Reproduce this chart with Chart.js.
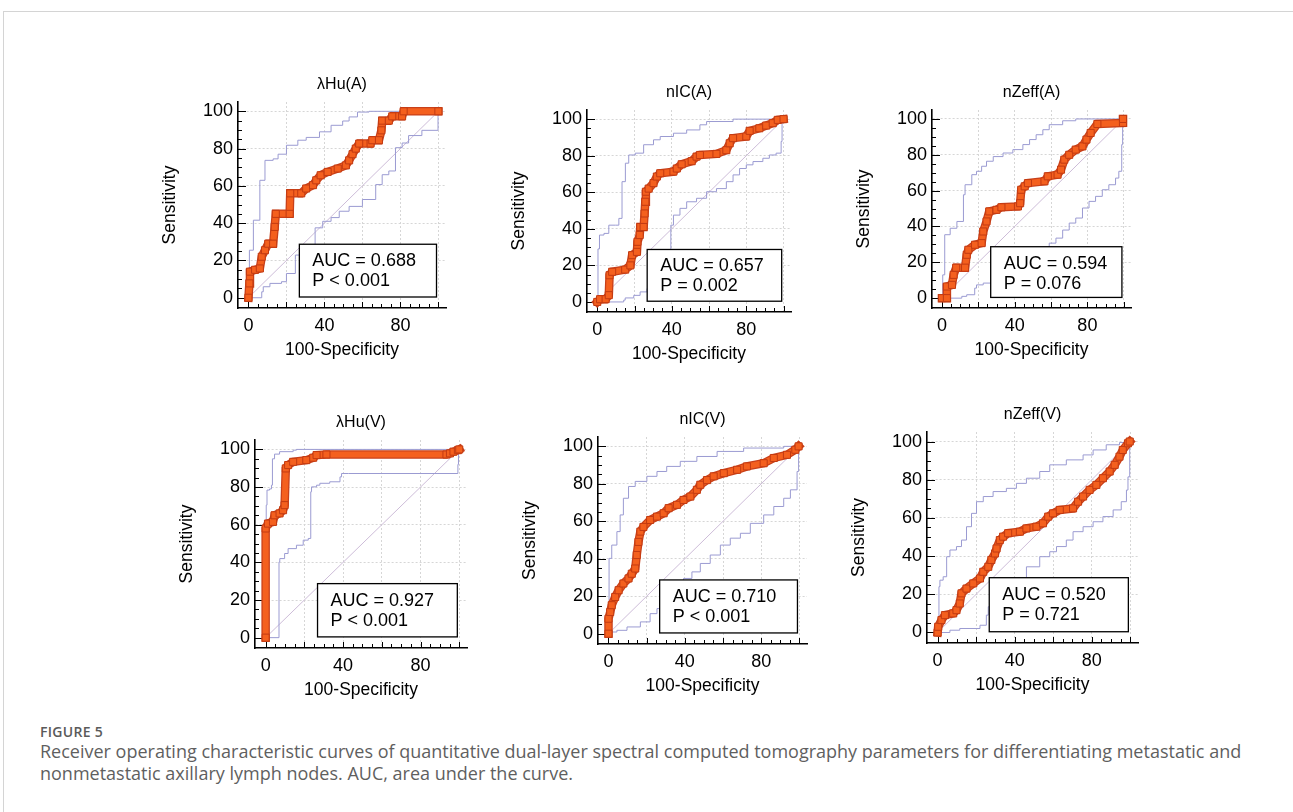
<!DOCTYPE html>
<html>
<head>
<meta charset="utf-8">
<script src="https://cdn.jsdelivr.net/npm/chart.js@4.4.1/dist/chart.umd.min.js"></script>
<style>
  body { margin: 0; background: #fff; width: 1293px; height: 812px; position: relative; overflow: hidden; }
  .frame { position: absolute; left: 3px; top: 11px; right: -2px; bottom: -2px; border-top: 1px solid #d4d4d4; border-left: 1px solid #d4d4d4; }
  canvas.panel { position: absolute; }
  .figlabel { position: absolute; left: 40px; top: 724px; font: 600 14px 'Open Sans', sans-serif; color: #5a5a5a; line-height: 16px; letter-spacing: 0.3px; }
  .caption { position: absolute; left: 40px; top: 740px; margin: 0; font: 18px 'Open Sans', sans-serif; color: #5f5f5f; line-height: 22px; white-space: nowrap; }
</style>
</head>
<body>
<div class="frame"></div>
<div class="figlabel">FIGURE 5</div>
<p class="caption">Receiver operating characteristic curves of quantitative dual-layer spectral computed tomography parameters for differentiating metastatic and<br>nonmetastatic axillary lymph nodes. AUC, area under the curve.</p>
<script>
// panel texts
const panelTitles = ['λHu(A)', 'nIC(A)', 'nZeff(A)', 'λHu(V)', 'nIC(V)', 'nZeff(V)'];
const aucLabels = ['AUC = 0.688', 'AUC = 0.657', 'AUC = 0.594', 'AUC = 0.927', 'AUC = 0.710', 'AUC = 0.520'];
const pLabels = ['P < 0.001', 'P = 0.002', 'P = 0.076', 'P < 0.001', 'P < 0.001', 'P = 0.721'];
const xTitle = '100-Specificity';
const yTitle = 'Sensitivity';

// axis ticks
const tickValues = [0, 5, 10, 15, 20, 25, 30, 35, 40, 45, 50, 55, 60, 65, 70, 75, 80, 85, 90, 95, 100];
const xTickLabels = [0, 40, 80];
const yTickLabels = [0, 20, 40, 60, 80, 100];
const gridValues = [20, 40, 60, 80, 100];

// reference line
const diagonal = [[0, 0], [100, 100]];

// lambda Hu (A)
const rocHuA = [[0,0],[0.5,7.7],[0.8,14],[3.5,15],[6,15.7],[7,22],[8.7,25.5],[10.4,29],[13,29],[13.8,38],[14.4,45],[21.7,45],[22,56],[27.8,56],[30.4,58.6],[34,60.4],[35.7,63],[38,65.7],[41.7,67.5],[47,69.3],[51.3,71],[53,73.7],[54.8,77],[56.5,80],[58.3,82.7],[64.3,82.7],[65.2,84.5],[68.7,84.5],[70,89.8],[70.4,95],[73.9,95],[75.7,97.3],[80.9,97.3],[81.7,100],[100,100]];
const upHuA = [[0,0],[0.5,25.5],[2.6,41.6],[6,63],[8.7,73.7],[13,74.5],[15.6,77],[20,81.8],[26,84.5],[30.4,86],[37.4,89],[43.5,92.5],[49.6,94.8],[53,97],[57.4,99.6],[63.5,100],[100,100]];
const loHuA = [[0,0],[7,0],[7.8,3.2],[11.3,5.9],[17.4,7.7],[20,8.6],[24.7,13],[24.7,20.5],[30.4,22.9],[35.1,24.6],[35.1,35.3],[39.1,37.5],[43.5,41],[47.8,43],[53,46.4],[60,49],[67,52.7],[70.4,60.7],[73.9,66],[77.4,68],[80.9,80.5],[84.3,83],[91.3,87],[99.3,89.8],[99.8,89.8],[100,100]];

// nIC (A)
const rocIcA = [[0,0],[1.5,1.5],[4.5,1.5],[6.2,3.7],[6.6,14.6],[8,16.5],[15,17.7],[17.8,20],[18.7,25.6],[21.3,27.4],[21.6,32.9],[22.8,36.6],[23.1,41],[24.9,41],[25.4,48.4],[25.8,54.8],[26.1,60.3],[27.6,62],[30.2,65],[32,68.6],[33.8,70.4],[40.9,71.3],[42.7,73],[45.3,75.3],[50.7,77],[53.3,79.5],[55.1,80.4],[64,81],[69.3,83],[71.1,86.8],[72.9,89.6],[80,90.5],[81.8,93.6],[87,95],[90.7,96.5],[94.2,97.8],[96.9,99.6],[100,100]];
const upIcA = [[0,0],[0.4,29],[1.2,36.6],[3.6,37.5],[6.2,42],[9.8,42],[11.6,45.7],[13.3,65.8],[15.1,75.9],[16.9,80.4],[20.4,81.4],[24.9,86],[30.2,88.7],[33.8,90.5],[40.9,92.3],[48,94.1],[55.1,96.9],[58.7,98.7],[72.9,100],[100,100]];
const loIcA = [[0,0],[14.2,0],[15,1],[19.6,2.2],[23,3.6],[26.7,5.5],[32,7.3],[36.4,9.1],[39.5,9.5],[39.5,40],[40.9,42],[44.4,47.5],[48,51.2],[53.3,54.8],[58.7,56.7],[64,60.3],[69.3,62],[72.9,65.8],[76.4,69.5],[80,73],[83.6,75],[88.9,76.8],[92.4,78.6],[96,80.4],[98.7,81.4],[99.2,87.8],[100,100]];

// nZeff (A)
const rocZeA = [[0,0],[2.7,0],[2.7,6.5],[5.5,7.4],[6.4,13],[7.8,17],[12.7,17],[13.6,24.2],[14.5,27],[18.2,29.8],[21.8,30.7],[22.7,37.2],[24.5,42.8],[26,48.4],[30,49.3],[32.7,50.7],[41.8,51.2],[43,53],[43.6,60.5],[45.5,62.4],[47.3,64.2],[56.4,65.2],[58.2,68],[63.6,68.9],[65.5,71.7],[67.3,77.3],[70,80],[73.6,82.9],[77.3,84.7],[79.5,88.5],[81.8,92.2],[85.5,97.2],[99.6,97.8],[99.6,100]];
const upZeA = [[0,0],[0.4,13],[1.5,35.4],[4.5,39],[8.2,42.8],[11.8,57.7],[12.7,63.3],[16.4,68.9],[19,70.8],[21.8,73.6],[24.5,76.4],[28.2,79],[33.6,81],[39,82.9],[44.5,85.7],[48.2,88.5],[51.8,91.2],[55.5,94],[59,96.8],[66.4,99],[73.6,100],[100,100]];
const loZeA = [[0,0],[10.9,0],[13.6,1],[18,1.9],[19,5.6],[22.7,7.4],[30,8.4],[31.8,10.2],[37.3,13],[44.5,15],[51.8,17.7],[55.5,23.3],[59,26],[62.7,30.7],[66.4,33.5],[70,38],[73.6,41.9],[77.3,44.7],[80.9,50.3],[84.5,54],[88.2,56.8],[91.8,60.5],[95.5,63.3],[97.3,67],[98.9,70.8],[99.4,85.7],[100,100]];

// lambda Hu (V)
const rocHuV = [[0,0],[0,58],[1.2,60.6],[3.8,61.5],[4.6,65],[7.2,66],[9,67.7],[9.8,70.4],[10.4,89.9],[11.6,91.7],[14.2,93.4],[21,94.3],[24.6,95.6],[26.3,97],[31.4,97.3],[93.4,97.3],[95.2,97.9],[97,98.8],[99.3,99.6],[100,100]];
const upHuV = [[0,0],[0.3,70.4],[0.7,78.4],[2,79],[3,81],[3.5,95],[4.6,97.5],[7.2,98.8],[14.2,99.6],[15.9,100],[100,100]];
const loHuV = [[0,0],[6.9,0],[7.3,40.2],[9.8,42],[11.6,44.7],[15.9,47.3],[19.4,49.1],[22,51.8],[23.3,52.7],[23.7,77.5],[26.3,80.1],[28,81],[33.1,82],[38.4,82.8],[39.2,85.4],[42.7,87.2],[99.3,87.2],[99.6,92],[100,100]];

// nIC (V)
const rocIcV = [[0,0],[0,8],[0.9,11.6],[1.7,15.2],[3.5,19.6],[5.3,23.2],[7.8,26.8],[10.5,29.5],[12.2,32],[14,34.8],[14.8,42],[15.7,49],[16.7,54.5],[18.3,57],[21.8,60.7],[25.4,62.5],[28.9,64.3],[31.5,67],[35.9,68.8],[39.3,71.4],[42.9,73.2],[46.3,76.8],[48.1,79.5],[51.6,82],[55.1,84],[60.4,85.7],[67.4,87.5],[72.5,89.3],[81.3,91],[86.6,93.8],[93.5,95.5],[97.9,98.2],[99.6,100]];
const upIcV = [[0,0],[0.3,40.2],[1.7,47.3],[4.4,54.5],[6.1,63.4],[7.8,72.3],[10.5,78.6],[14,81.3],[20.1,84],[25.4,86.6],[30.5,89.3],[37.6,92],[46.3,94.6],[56.9,97.3],[70.8,99.1],[91.8,100],[100,100]];
const loIcV = [[0,0],[0.9,0],[4.4,0.9],[9.7,1.8],[16.7,3.6],[21.8,6.3],[25.4,10.7],[28.9,13.4],[32.3,19.6],[35.9,22.3],[39.3,25.9],[43.7,29.5],[48.1,33],[53.3,37.5],[58.6,42],[63.8,47.3],[69.1,51],[74.3,53.6],[81.3,58.9],[86.6,63.4],[91.8,67.9],[95.3,72.3],[98.8,76.8],[99.6,86.6],[100,100]];

// nZeff (V)
const rocZeV = [[0,0],[0.3,3],[2,6.5],[3.8,9.1],[8.1,10],[9.8,11.7],[11.5,15.2],[12.4,20.5],[15,23],[18.5,25.7],[22,28.3],[23.7,31.8],[26.3,34.4],[27.9,38],[29.8,41.4],[30.6,44],[32.3,48.4],[34,50.2],[36.6,52],[42.7,52.8],[46.1,54.5],[51.3,55.4],[54.7,57.2],[57.4,60.7],[59.9,62.4],[63.4,64.2],[70.3,65],[72.9,68.5],[75.5,71.2],[78.9,74.7],[82.4,77.3],[85.8,80.8],[89.3,84.3],[91.9,87.8],[94.4,92.1],[96.1,95.6],[98.8,99.1],[99.7,100]];
const upZeV = [[0,0],[0.7,24],[1.2,27.4],[2.9,29.2],[4.7,39.7],[6.4,43.2],[9.8,45],[12.4,48.4],[15,55.4],[17.6,62.4],[20.2,68.5],[23.7,71.2],[28.8,73.8],[35.7,75.5],[40.9,78.1],[46.1,80.8],[53,84.3],[58.2,87.8],[66.8,90.4],[75.5,93],[80.7,95.6],[87.5,98.3],[94.4,99.5],[99.7,100]];
const loZeV = [[0,0],[6.4,0],[11.5,1.2],[22,2.1],[25.3,3.8],[26.3,9.1],[30.4,13.5],[35.7,17],[40.9,21.3],[46.1,27.4],[53,34.4],[58.2,39.7],[61.7,42.3],[66.8,45],[70.3,48.4],[75.5,52.8],[80.7,55.4],[85.8,58],[91.1,60.7],[95.3,64.2],[98,68.5],[98.8,74.6],[99.7,81.5],[100,100]];

const rocCurves = [rocHuA, rocIcA, rocZeA, rocHuV, rocIcV, rocZeV];
const upperCI = [upHuA, upIcA, upZeA, upHuV, upIcV, upZeV];
const lowerCI = [loHuA, loIcA, loZeA, loHuV, loIcV, loZeV];

// layout: plot area of every panel in page pixels [left, top, right, bottom]
const plotBoxes = [
  [238, 102, 446, 308], [587, 110, 791, 312], [932, 110, 1131, 308],
  [255, 440, 467, 648], [598, 437, 807, 644], [927, 432, 1138, 643]
];
const PAD_L = 100, PAD_T = 45, PAD_R = 10, PAD_B = 65;
const FONT = '"Liberation Sans", Arial, sans-serif';

const toXY = (pairs) => pairs.map(p => ({x: p[0], y: p[1]}));

// inner tick marks, AUC box and the texts
const panelDecor = {
    id: 'panelDecor',
    beforeDatasetsDraw(chart) {
        const {ctx, chartArea: ca, scales: {x, y}} = chart;
        ctx.save();
        ctx.strokeStyle = '#000';
        ctx.lineWidth = 1;
        ctx.beginPath();
        x.ticks.forEach(t => {
            const px = Math.round(x.getPixelForValue(t.value)) + 0.5;
            const len = t.value % 20 === 0 ? 6 : 4;
            ctx.moveTo(px, ca.bottom);
            ctx.lineTo(px, ca.bottom - len);
        });
        y.ticks.forEach(t => {
            const py = Math.round(y.getPixelForValue(t.value)) + 0.5;
            const len = t.value % 20 === 0 ? 8 : 4;
            ctx.moveTo(ca.left, py);
            ctx.lineTo(ca.left + len, py);
        });
        ctx.stroke();
        ctx.restore();
    },
    afterDatasetsDraw(chart, args, opts) {
        const {ctx, scales: {x, y}} = chart;
        const left = x.getPixelForValue(26.8), right = x.getPixelForValue(99);
        const top = y.getPixelForValue(28.7), bottom = y.getPixelForValue(0.4);
        ctx.save();
        ctx.fillStyle = '#fff';
        ctx.fillRect(left, top, right - left, bottom - top);
        ctx.strokeStyle = '#000';
        ctx.lineWidth = 1.3;
        ctx.strokeRect(left, top, right - left, bottom - top);
        ctx.fillStyle = '#000';
        ctx.font = '18px ' + FONT;
        ctx.textAlign = 'left';
        ctx.textBaseline = 'middle';
        ctx.fillText(opts.auc, left + 13, top + 17);
        ctx.fillText(opts.p, left + 13, top + 37);
        ctx.restore();
    },
    afterDraw(chart, args, opts) {
        const {ctx, chartArea: ca} = chart;
        const cx = (ca.left + ca.right) / 2;
        ctx.save();
        ctx.fillStyle = '#000';
        ctx.textAlign = 'center';
        ctx.textBaseline = 'middle';
        ctx.font = '16px ' + FONT;
        ctx.fillText(opts.title, cx, ca.top - 17);
        ctx.font = '17.5px ' + FONT;
        ctx.fillText(xTitle, cx, ca.bottom + 42);
        ctx.translate(ca.left - 68, (ca.top + ca.bottom) / 2);
        ctx.rotate(-Math.PI / 2);
        ctx.fillText(yTitle, 0, 0);
        ctx.restore();
    }
};

function makeScale(axis, labels) {
    return {
        type: 'linear',
        min: -5.5,
        max: axis === 'x' ? 104 : 105,
        afterBuildTicks: (s) => { s.ticks = tickValues.map(v => ({value: v})); },
        afterFit: (s) => { if (axis === 'x') s.height = PAD_B; else s.width = PAD_L; },
        ticks: {
            autoSkip: false,
            maxRotation: 0,
            padding: axis === 'x' ? 7 : 5,
            color: '#000',
            font: {family: FONT, size: 18},
            callback: (v) => labels.includes(v) ? String(v) : ''
        },
        grid: {
            drawTicks: false,
            lineWidth: 1,
            color: (c) => (c.tick && gridValues.includes(c.tick.value)) ? '#d6d6d6' : 'rgba(0,0,0,0)'
        },
        border: {color: '#000', width: 1.6, dash: [2, 2]}
    };
}

plotBoxes.forEach((b, i) => {
    const [L, T, R, B] = b;
    const canvas = document.createElement('canvas');
    canvas.className = 'panel';
    canvas.width = R - L + PAD_L + PAD_R;
    canvas.height = B - T + PAD_T + PAD_B;
    canvas.style.left = (L - PAD_L) + 'px';
    canvas.style.top = (T - PAD_T) + 'px';
    canvas.style.width = canvas.width + 'px';
    canvas.style.height = canvas.height + 'px';
    document.body.appendChild(canvas);

    const config = {
        type: 'line',
        data: {
            datasets: [
                {data: toXY(rocCurves[i]), order: 0, borderColor: '#f4601e', borderWidth: 6,
                 borderJoinStyle: 'miter', pointStyle: 'rect', pointRadius: 5,
                 pointBackgroundColor: '#f4601e', pointBorderColor: '#c23a12', pointBorderWidth: 1},
                {data: toXY(rocCurves[i]), order: 1, borderColor: '#c8401a', borderWidth: 8.5,
                 borderCapStyle: 'square', borderJoinStyle: 'miter', pointRadius: 0},
                {data: toXY(upperCI[i]), order: 2, stepped: 'before', borderColor: '#9b9bd2', borderWidth: 1, pointRadius: 0},
                {data: toXY(lowerCI[i]), order: 2, stepped: 'after', borderColor: '#9b9bd2', borderWidth: 1, pointRadius: 0},
                {data: toXY(diagonal), order: 3, borderColor: '#cdbcd8', borderWidth: 1, pointRadius: 0}
            ]
        },
        options: {
            responsive: false,
            animation: false,
            devicePixelRatio: 1,
            layout: {padding: {left: 0, top: PAD_T, right: PAD_R, bottom: 0}},
            plugins: {
                legend: {display: false},
                tooltip: {enabled: false},
                panelDecor: {title: panelTitles[i], auc: aucLabels[i], p: pLabels[i]}
            },
            scales: {
                x: makeScale('x', xTickLabels),
                y: makeScale('y', yTickLabels)
            }
        },
        plugins: [panelDecor]
    };
    new Chart(canvas, config);
});
</script>
</body>
</html>
